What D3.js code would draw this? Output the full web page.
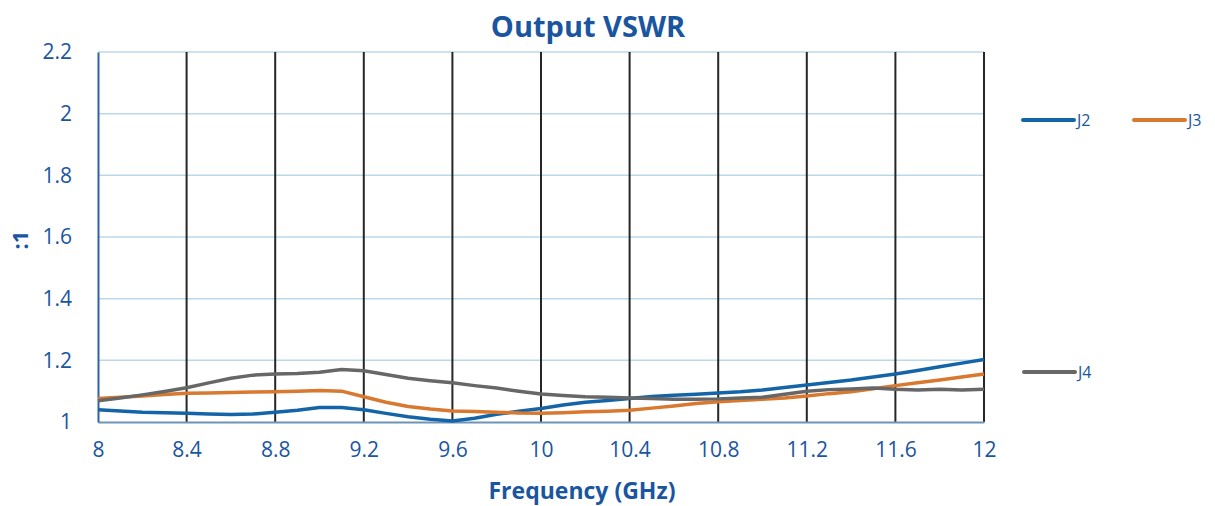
<!DOCTYPE html>
<html>
<head>
<meta charset="utf-8">
<script src="https://cdn.jsdelivr.net/npm/d3@7"></script>
<style>
  body { margin: 0; background: #fff; }
  text { font-family: "Open Sans", sans-serif; }
</style>
</head>
<body>
<div id="chart"></div>
<script>
// frequency in GHz, 0.1 steps
var freq = d3.range(80, 121).map(function (d) { return d / 10 })

var j2 = [1.040, 1.036, 1.032, 1.030, 1.028, 1.026, 1.024, 1.026, 1.032, 1.038,
  1.047, 1.047, 1.040, 1.028, 1.017, 1.009, 1.003, 1.012, 1.025, 1.035,
  1.044, 1.055, 1.064, 1.070, 1.076, 1.083, 1.087, 1.090, 1.094, 1.098,
  1.104, 1.112, 1.120, 1.128, 1.136, 1.146, 1.156, 1.167, 1.179, 1.191, 1.203]

var j3 = [1.076, 1.080, 1.084, 1.089, 1.093, 1.094, 1.096, 1.097, 1.098, 1.100,
  1.102, 1.100, 1.082, 1.064, 1.050, 1.042, 1.036, 1.034, 1.032, 1.029,
  1.028, 1.030, 1.033, 1.035, 1.038, 1.045, 1.052, 1.060, 1.066, 1.070,
  1.074, 1.078, 1.084, 1.092, 1.098, 1.108, 1.118, 1.127, 1.136, 1.146, 1.156]

var j4 = [1.069, 1.078, 1.088, 1.099, 1.111, 1.127, 1.142, 1.152, 1.156, 1.157,
  1.161, 1.170, 1.166, 1.154, 1.142, 1.134, 1.127, 1.118, 1.110, 1.100,
  1.091, 1.086, 1.082, 1.080, 1.078, 1.076, 1.074, 1.074, 1.075, 1.078,
  1.080, 1.090, 1.100, 1.105, 1.107, 1.110, 1.106, 1.104, 1.106, 1.104, 1.106]

var xTicks = [8, 8.4, 8.8, 9.2, 9.6, 10, 10.4, 10.8, 11.2, 11.6, 12]
var yTicks = [1, 1.2, 1.4, 1.6, 1.8, 2, 2.2]

var series = [
  { name: 'J2', values: j2, color: '#1465a8' },
  { name: 'J3', values: j3, color: '#d9782f' },
  { name: 'J4', values: j4, color: '#676767' }
]

var W = 1215, H = 506
var textColor = '#1a55a0'
var margin = { left: 98, right: 231, top: 52, bottom: 84 }

var svg = d3.select('#chart').append('svg')
  .attr('width', W)
  .attr('height', H)

var x = d3.scaleLinear().domain([8, 12]).range([margin.left, W - margin.right])
var y = d3.scaleLinear().domain([1, 2.2]).range([H - margin.bottom, margin.top])

// horizontal grid
svg.append('g').selectAll('line')
  .data(yTicks.slice(1))
  .enter().append('line')
  .attr('x1', x(8)).attr('x2', x(12))
  .attr('y1', function (d) { return y(d) })
  .attr('y2', function (d) { return y(d) })
  .attr('stroke', '#bcd7ea')
  .attr('stroke-width', 1.5)

// vertical grid (black)
svg.append('g').selectAll('line')
  .data(xTicks.slice(1))
  .enter().append('line')
  .attr('x1', function (d) { return x(d) })
  .attr('x2', function (d) { return x(d) })
  .attr('y1', y(2.2)).attr('y2', y(1))
  .attr('stroke', '#262626')
  .attr('stroke-width', 2)

// axes
var xAxis = svg.append('g')
  .attr('transform', 'translate(0,' + y(1) + ')')
  .call(d3.axisBottom(x).tickValues(xTicks).tickSize(0).tickPadding(20)
    .tickFormat(function (d) { return d }))
xAxis.select('.domain').attr('stroke', '#6f94b8').attr('stroke-width', 2)
xAxis.selectAll('text')
  .attr('fill', textColor)
  .style('font-size', '21px')

var yAxis = svg.append('g')
  .attr('transform', 'translate(' + x(8) + ',0)')
  .call(d3.axisLeft(y).tickValues(yTicks).tickSize(0).tickPadding(26)
    .tickFormat(function (d) { return d }))
yAxis.select('.domain').attr('stroke', '#2f63a8').attr('stroke-width', 2)
yAxis.selectAll('text')
  .attr('fill', textColor)
  .style('font-size', '21px')

// series lines
var line = d3.line()
  .x(function (d, i) { return x(freq[i]) })
  .y(function (d) { return y(d) })

svg.append('g').selectAll('path')
  .data(series)
  .enter().append('path')
  .attr('d', function (d) { return line(d.values) })
  .attr('fill', 'none')
  .attr('stroke', function (d) { return d.color })
  .attr('stroke-width', 3.5)
  .attr('stroke-linejoin', 'round')

// title and axis labels
svg.append('text')
  .attr('x', 588).attr('y', 37)
  .attr('text-anchor', 'middle')
  .attr('fill', textColor)
  .style('font-size', '29px')
  .style('font-weight', 'bold')
  .text('Output VSWR')

svg.append('text')
  .attr('x', 582).attr('y', 499)
  .attr('text-anchor', 'middle')
  .attr('fill', textColor)
  .style('font-size', '23px')
  .style('font-weight', 'bold')
  .text('Frequency (GHz)')

svg.append('text')
  .attr('transform', 'translate(28,240) rotate(-90)')
  .attr('text-anchor', 'middle')
  .attr('fill', textColor)
  .style('font-size', '22px')
  .style('font-weight', 'bold')
  .text(':1')

// legend
var legendPos = [
  { x: 1023, y: 120 },
  { x: 1134, y: 120 },
  { x: 1024, y: 372 }
]
var legend = svg.append('g').selectAll('g')
  .data(series)
  .enter().append('g')
  .attr('transform', function (d, i) {
    return 'translate(' + legendPos[i].x + ',' + legendPos[i].y + ')'
  })
legend.append('line')
  .attr('x1', 0).attr('x2', 51)
  .attr('stroke', function (d) { return d.color })
  .attr('stroke-width', 4)
  .attr('stroke-linecap', 'round')
legend.append('text')
  .attr('x', 54).attr('y', 6)
  .attr('fill', textColor)
  .style('font-size', '16px')
  .text(function (d) { return d.name })
</script>
</body>
</html>
